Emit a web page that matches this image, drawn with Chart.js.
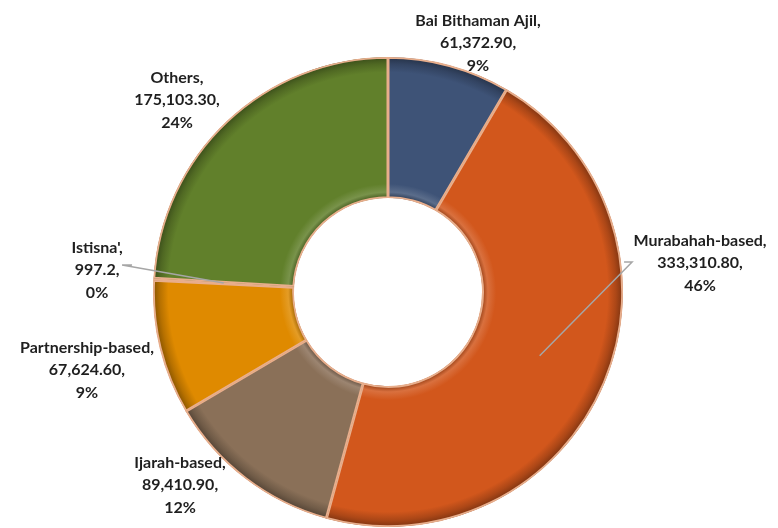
<!DOCTYPE html>
<html>
<head>
<meta charset="utf-8">
<script src="https://cdn.jsdelivr.net/npm/chart.js@4/dist/chart.umd.min.js"></script>
<style>
  html, body { margin: 0; padding: 0; background: #ffffff; }
  #wrap { width: 778px; height: 528px; position: relative; }
</style>
</head>
<body>
<div id="wrap"><canvas id="c" width="778" height="528"></canvas></div>
<script>
// ---- data ----
const categories = ["Bai Bithaman Ajil", "Murabahah-based", "Ijarah-based", "Partnership-based", "Istisna'", "Others"];
const values = [61372.90, 333310.80, 89410.90, 67624.60, 997.2, 175103.30];
const valueLabels = ["61,372.90", "333,310.80", "89,410.90", "67,624.60", "997.2", "175,103.30"];
const percentLabels = ["9%", "46%", "12%", "9%", "0%", "24%"];

// ---- styles ----
const colors = ["#3E5377", "#D2571C", "#8A7058", "#DF8A00", "#F2A27E", "#61802B"];
// label centre offsets, in units of outer radius, relative to the doughnut centre
const labelOffsets = [[0.383, -1.06], [1.328, -0.123], [-0.885, 0.821], [-1.281, 0.332], [-1.238, -0.094], [-0.898, -0.817]];
// leader lines: [start offset from label centre in px, horizontal tick] or null
const leaders = [null, [-76, -1, 8], null, null, [35, -5, -10], null];

function shade(hex, f) {
  const n = parseInt(hex.slice(1), 16);
  let r = (n >> 16) & 255, g = (n >> 8) & 255, b = n & 255;
  if (f < 0) { r = r * (1 + f); g = g * (1 + f); b = b * (1 + f); }
  else { r = r + (255 - r) * f; g = g + (255 - g) * f; b = b + (255 - b) * f; }
  return `rgb(${Math.round(r)},${Math.round(g)},${Math.round(b)})`;
}

function bevel(ctx) {
  const chart = ctx.chart;
  const base = colors[ctx.dataIndex];
  const a = chart.chartArea;
  if (!a) return base;
  const cx = (a.left + a.right) / 2, cy = (a.top + a.bottom) / 2;
  const r = Math.min(a.right - a.left, a.bottom - a.top) / 2;
  const g = chart.ctx.createRadialGradient(cx, cy, 0, cx, cy, r);
  g.addColorStop(0.0, shade(base, -0.3));
  g.addColorStop(0.40, shade(base, -0.3));
  g.addColorStop(0.425, shade(base, 0.15));
  g.addColorStop(0.46, base);
  g.addColorStop(0.935, base);
  g.addColorStop(0.97, shade(base, -0.18));
  g.addColorStop(1.0, shade(base, -0.4));
  return g;
}

const labelPlugin = {
  id: 'labelPlugin',
  afterDatasetsDraw(chart) {
    const ctx = chart.ctx;
    const meta = chart.getDatasetMeta(0);
    ctx.save();
    meta.data.forEach((arc, i) => {
      const p = arc.getProps(['x', 'y', 'startAngle', 'endAngle', 'innerRadius', 'outerRadius'], true);
      const R = p.outerRadius;
      const lx = p.x + labelOffsets[i][0] * R;
      const ly = p.y + labelOffsets[i][1] * R;
      if (leaders[i]) {
        const mid = (p.startAngle + p.endAngle) / 2;
        const mr = (p.innerRadius + p.outerRadius) / 2;
        const ex = p.x + Math.cos(mid) * mr, ey = p.y + Math.sin(mid) * mr;
        const sx = lx + leaders[i][0], sy = ly + leaders[i][1];
        ctx.strokeStyle = '#A6A6A6';
        ctx.lineWidth = 1.5;
        ctx.beginPath();
        ctx.moveTo(sx, sy);
        ctx.lineTo(sx + leaders[i][2], sy);
        ctx.lineTo(ex, ey);
        ctx.stroke();
      }
      ctx.fillStyle = '#1F1F1F';
      ctx.font = 'bold 16px Lato';
      ctx.textAlign = 'center';
      ctx.textBaseline = 'middle';
      const lines = [categories[i] + ',', valueLabels[i] + ',', percentLabels[i]];
      lines.forEach((t, k) => ctx.fillText(t, lx, ly + (k - 1) * 22.5));
    });
    ctx.restore();
  }
};

new Chart(document.getElementById('c'), {
  type: 'doughnut',
  data: {
    labels: categories,
    datasets: [{
      data: values,
      backgroundColor: bevel,
      borderColor: '#E8AE8C',
      borderWidth: 1.5,
      borderAlign: 'inner'
    }]
  },
  options: {
    responsive: false,
    animation: false,
    cutout: '40%',
    layout: { padding: { top: 57, bottom: 1, left: 0, right: 2 } },
    plugins: { legend: { display: false }, tooltip: { enabled: false } }
  },
  plugins: [labelPlugin]
});
</script>
</body>
</html>
